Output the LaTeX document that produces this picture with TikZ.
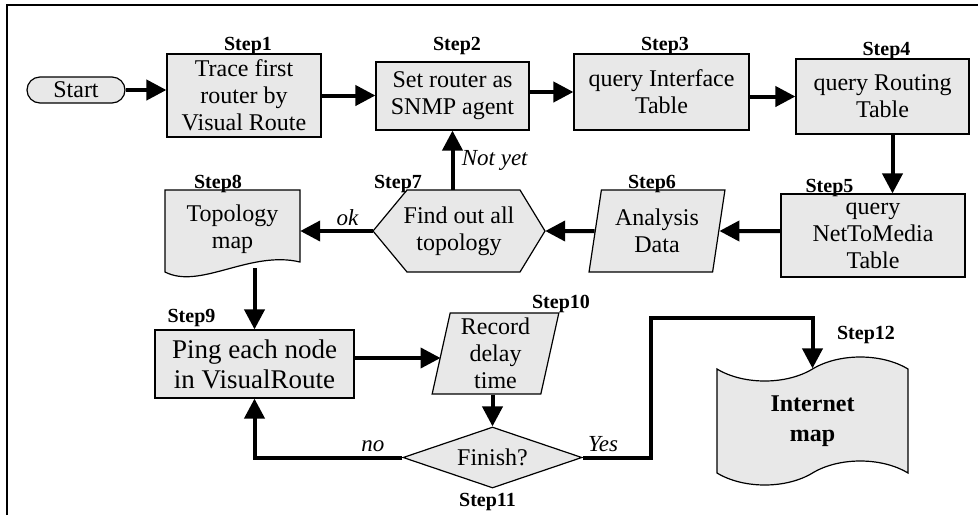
\documentclass[tikz,border=0pt]{standalone}
\usepackage{fontspec}
\setmainfont{Liberation Serif}
\usetikzlibrary{positioning,shapes.geometric,shapes.symbols,arrows.meta}

\begin{document}
\begin{tikzpicture}[x=1pt, y=-1pt,
    every node/.style={font=\fontsize{24}{27}\selectfont, align=center},
    box/.style={draw, line width=1.2pt, fill=black!9, inner sep=0pt},
    steplabel/.style={font=\fontsize{20}{22}\selectfont\bfseries},
    cond/.style={font=\fontsize{23}{26}\selectfont\itshape},
    flow/.style={line width=4pt, -{Triangle[length=20pt,width=20pt]}}]
\useasboundingbox (0,0) rectangle (978,515);
\draw[line width=1.6pt] (7,515) -- (7,5) -- (978,5);

% outlines of the hexagon and the document
\filldraw[line width=1.2pt, fill=black!9] (373,231) -- (407,190) -- (520,190) -- (545,231) -- (520,272) -- (407,272) -- cycle;
\filldraw[line width=1.2pt, fill=black!9] (165,190) -- (300,190) -- (300,262) .. controls (250,250) and (200,290) .. (165,272) -- cycle;

\node(start) [box, rounded corners=13pt, minimum width=98pt, minimum height=26pt] at (76,90) {Start};
\node(s1) [box, minimum width=154pt, minimum height=83pt] at (244,95.5) {Trace first\\router by\\Visual Route};
\node(s2) [box, minimum width=153pt, minimum height=68pt] at (452.5,96) {Set router as\\SNMP agent};
\node(s3) [box, minimum width=175pt, minimum height=76pt] at (661.5,92) {query Interface\\Table};
\node(s4) [box, minimum width=173pt, minimum height=75pt] at (882.5,96.5) {query Routing\\Table};
\node(s5) [box, minimum width=184pt, minimum height=83pt] at (873,235.5) {query\\NetToMedia\\Table};
\node(s6) [box, trapezium, trapezium left angle=78, trapezium right angle=102, trapezium stretches=true,
    minimum width=136pt, minimum height=82pt] at (657,231) {Analysis\\Data};
\node(s7) [minimum width=172pt, minimum height=82pt, inner sep=0pt] at (459,231) {Find out all\\topology};
\node(s8) [minimum width=135pt, minimum height=78pt, inner sep=0pt] at (232.5,229) {Topology\\map};
\node(s9) [box, minimum width=199pt, minimum height=68pt, font=\fontsize{27}{30}\selectfont] at (254.5,364) {Ping each node\\in VisualRoute};
\node(s10) [box, trapezium, trapezium left angle=79, trapezium right angle=101, trapezium stretches=true,
    minimum width=127pt, minimum height=81pt] at (495.5,353.5) {Record\\delay\\time};
\node(s11) [box, diamond, aspect=3, minimum width=179pt, minimum height=61pt] at (492.5,457.5) {Finish?};
\node(s12) [box, tape, tape bend height=24pt, minimum width=191pt, minimum height=128pt,
    font=\fontsize{24}{30}\selectfont\bfseries] at (812.5,421) {Internet\\map};

\node(l1) [steplabel] at (248,46) {Step1};
\node(l2) [steplabel] at (457,46) {Step2};
\node(l3) [steplabel] at (665,46) {Step3};
\node(l4) [steplabel] at (886.5,51) {Step4};
\node(l5) [steplabel] at (829.5,188) {Step5};
\node(l6) [steplabel] at (652,184) {Step6};
\node(l7) [steplabel] at (398,184) {Step7};
\node(l8) [steplabel] at (218,184) {Step8};
\node(l9) [steplabel] at (191.5,318) {Step9};
\node(l10) [steplabel] at (561,304) {Step10};
\node(l11) [steplabel] at (487.5,502) {Step11};
\node(l12) [steplabel] at (866,335) {Step12};

\coordinate(bend) at (651,318);

\draw[flow](start) -- (start -| s1.west);
\draw[flow](s1) -- (s1 -| s2.west);
\draw[flow](s3 -| s2.east) -- (s3);
\draw[flow](s4 -| s3.east) -- (s4);
\draw[flow]([xshift=10pt]s4.south) -- ([xshift=10pt]s4.south |- s5.north);
\draw[flow](s6 -| s5.west) -- (s6.east);
\draw[flow](s6) -- (s7.east);
\draw[flow](s7.west) to node [cond, above, pos=0.35] {ok} (s7.west -| s8.east);
\draw[flow](s2 |- s7.north) to node [cond, right, xshift=4pt] {Not yet} (s2.south);
\draw[flow](s9 |- s8.south) -- (s9.north);
\draw[flow]([yshift=6pt]s9.east) -- ([yshift=6pt]s9.east -| s10.west);
\draw[flow](s11 |- s10.south) -- (s11.north);
\draw[flow](s11.west) -| node [cond, above, pos=0.1] {no} (s9.south);
\draw[flow](s11.east) -| node [cond, above, pos=0.15] {Yes} (bend) -| (s12.north);
\end{tikzpicture}
\end{document}
